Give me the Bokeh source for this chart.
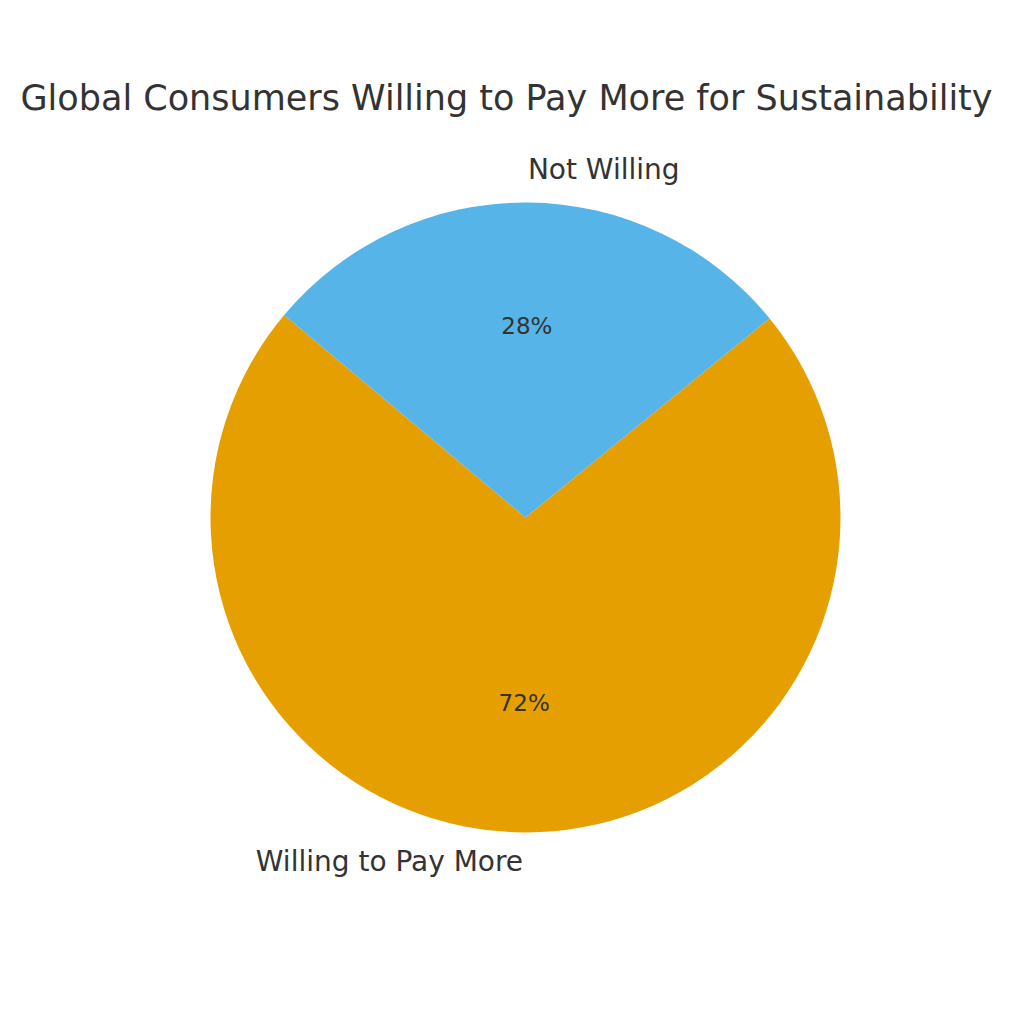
import math
from bokeh.plotting import figure
from bokeh.models import Range1d, ColumnDataSource
from bokeh.core.properties import value
from bokeh.embed import file_html
from bokeh.resources import INLINE

# ---- data ----
title_text = "Global Consumers Willing to Pay More for Sustainability"
categories = ["Willing to Pay More", "Not Willing"]
shares = [72, 28]
colors = ["#E69F00", "#56B4E9"]
start_angle_deg = 140

# ---- layout ----
W = H = 1008
SCALE = 315.0          # pixels per data unit (pie radius = 1)
CX, CY = 525.0, 517.0  # pie centre in figure pixels
TEXT = "#333333"
FONT = "DejaVu Sans"

x0 = -CX / SCALE
x1 = (W - CX) / SCALE
y1 = CY / SCALE
y0 = -(H - CY) / SCALE

p = figure(width=W, height=H, output_backend="svg", toolbar_location=None,
           x_range=Range1d(x0, x1), y_range=Range1d(y0, y1),
           min_border=0, outline_line_color=None)
p.axis.visible = False
p.grid.visible = False
p.background_fill_color = "white"
p.border_fill_color = "white"

total = float(sum(shares))
starts, ends, mids = [], [], []
a = math.radians(start_angle_deg)
for s in shares:
    span = 2 * math.pi * s / total
    starts.append(a)
    ends.append(a + span)
    mids.append(a + span / 2)
    a += span

src = ColumnDataSource(dict(start=starts, end=ends, color=colors))
p.wedge(x=0, y=0, radius=1, start_angle="start", end_angle="end",
        direction="anticlock", fill_color="color", line_color=None, source=src)

# category labels (labeldistance 1.1)
lx = [1.1 * math.cos(m) for m in mids]
ly = [1.1 * math.sin(m) for m in mids]
aligns = ["left" if x > 0 else "right" for x in lx]
p.text(x=lx, y=ly, text=categories, text_align=aligns,
       text_baseline="alphabetic", y_offset=-2,
       text_font=value(FONT), text_font_size="28px", text_color=TEXT)

# percentage labels (pctdistance 0.6)
px = [0.6 * math.cos(m) for m in mids]
py = [0.6 * math.sin(m) for m in mids]
pct = ["%d%%" % s for s in shares]
p.text(x=px, y=py, text=pct, text_align="center",
       text_baseline="alphabetic", y_offset=-3,
       text_font=value(FONT), text_font_size="23px", text_color=TEXT)

# title
p.text(x=[(506 - CX) / SCALE], y=[(CY - 97) / SCALE], text=[title_text],
       text_align="center", text_baseline="alphabetic",
       text_font=value(FONT), text_font_size="35px", text_color=TEXT)

open("out.html", "w").write(file_html(p, INLINE))
